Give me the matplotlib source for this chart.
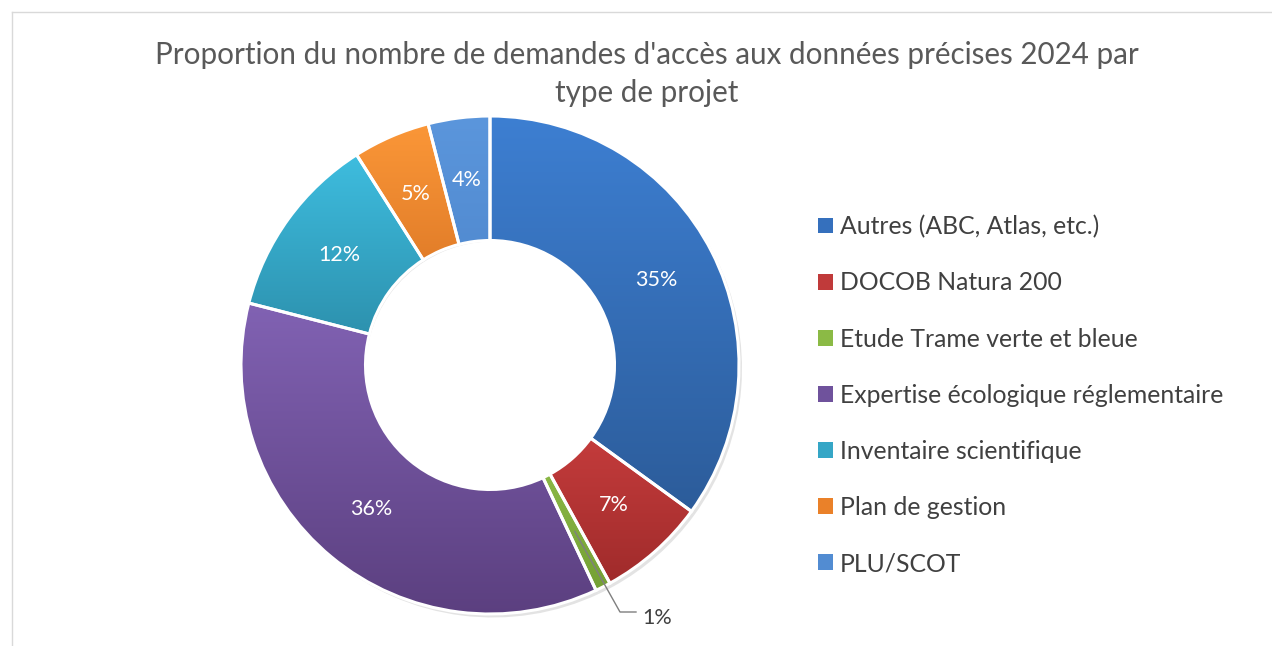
import numpy as np
import matplotlib.pyplot as plt
from matplotlib.colors import LinearSegmentedColormap
from matplotlib.patches import Patch
from matplotlib.lines import Line2D

plt.rcParams['font.family'] = ['Lato', 'DejaVu Sans']

# données
types = ['Autres (ABC, Atlas, etc.)', 'DOCOB Natura 200', 'Etude Trame verte et bleue',
         'Expertise écologique réglementaire', 'Inventaire scientifique',
         'Plan de gestion', 'PLU/SCOT']
parts = [35, 7, 1, 36, 12, 5, 4]

# couleurs (haut clair -> bas foncé, façon Excel)
light = ['#3d7fd2', '#d64444', '#9fcd55', '#8162b3', '#3ebddf', '#fb9738', '#5b96dc']
dark = ['#2c5c9a', '#a02b2b', '#74a034', '#5b3f7f', '#2a8aa6', '#cf6a1e', '#4a82c8']
flat = ['#3570bd', '#c03a3a', '#8bba45', '#6f529c', '#35a6c6', '#ea8129', '#528cd2']

W, H = 1272, 646
cx, cy, R = 490, 365, 249   # centre et rayon du donut en pixels

fig = plt.figure(figsize=(W / 100, H / 100), dpi=100)
ax = fig.add_axes([0, 0, 1, 1])

# ombre légère
ax.pie(parts, radius=1, startangle=90, counterclock=False, center=(0.012, -0.014),
       colors=['#c8c8c8'] * len(parts), wedgeprops=dict(width=0.49, edgecolor='none', alpha=0.5))

wedges, _ = ax.pie(parts, radius=1, startangle=90, counterclock=False, colors=flat,
                   wedgeprops=dict(width=0.5, edgecolor='white', linewidth=2.2))

# dégradé vertical dans chaque part
grad = np.linspace(0, 1, 256).reshape(-1, 1)
for w, lo, hi in zip(wedges, dark, light):
    v = w.get_path().vertices
    x0, y0 = v.min(axis=0)
    x1, y1 = v.max(axis=0)
    cm = LinearSegmentedColormap.from_list('g', [lo, hi])
    im = ax.imshow(grad, cmap=cm, extent=(x0, x1, y0, y1), origin='lower',
                   aspect='auto', zorder=2, interpolation='bilinear')
    im.set_clip_path(w)
    w.set_facecolor('none')
    w.set_zorder(3)

# étiquettes de pourcentage
for w, val in zip(wedges, parts):
    a = np.deg2rad((w.theta1 + w.theta2) / 2)
    px, py = 0.75 * np.cos(a), 0.75 * np.sin(a)
    if val >= 2:
        ax.text(px, py, f'{val}%', ha='center', va='center', color='white',
                fontsize=15.5, zorder=5)
    else:
        ex, ey = (620 - cx) / R, (cy - 612) / R
        ax.plot([px, ex, (636 - cx) / R], [py, ey, ey], color='#7f7f7f', lw=1, zorder=5)
        ax.text((642 - cx) / R, (cy - 618) / R, f'{val}%', ha='left', va='center',
                color='#404040', fontsize=15.5, zorder=5)

ax.set_xlim(-cx / R, (W - cx) / R)
ax.set_ylim(-(H - cy) / R, cy / R)
ax.set_aspect('auto')
ax.axis('off')

# titre
fig.text(647 / W, 1 - 55 / H, "Proportion du nombre de demandes d'accès aux données précises 2024 par",
         ha='center', va='center', fontsize=21.3, color='#595959')
fig.text(647 / W, 1 - 93 / H, 'type de projet', ha='center', va='center',
         fontsize=21.3, color='#595959')

# légende
handles = [Patch(facecolor=c) for c in flat]
ax.legend(handles, types, loc='upper left', bbox_to_anchor=(818 / W, 1 - 215 / H),
          bbox_transform=fig.transFigure, frameon=False, fontsize=17.8,
          handlelength=0.6, handleheight=0.6, handletextpad=0.3, labelspacing=1.34,
          borderpad=0, borderaxespad=0, labelcolor='#404040')

# cadre
fig.add_artist(Line2D([12 / W, 1], [1 - 12 / H] * 2, color='#d9d9d9', lw=1))
fig.add_artist(Line2D([12 / W] * 2, [0, 1 - 12 / H], color='#d9d9d9', lw=1))

fig.savefig('out.png', dpi=100)
